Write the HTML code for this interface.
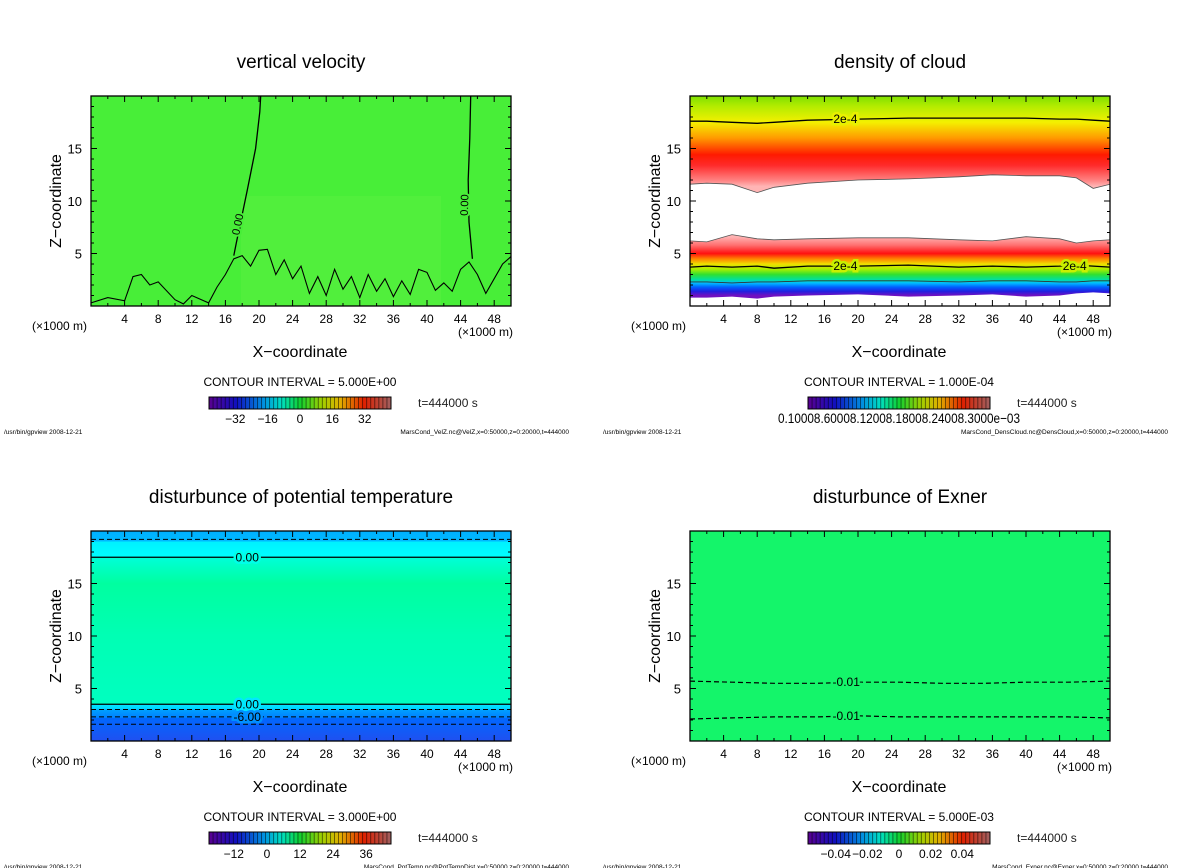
<!DOCTYPE html>
<html><head><meta charset="utf-8">
<style>
body{margin:0;background:#fff;}
svg{display:block;font-family:"Liberation Sans","DejaVu Sans",sans-serif;}
</style></head>
<body>
<svg id="fig" width="1200" height="868" viewBox="0 0 1200 868" xmlns="http://www.w3.org/2000/svg">
<defs>
<linearGradient id="gCloud" x1="0" y1="0" x2="0" y2="1">
<stop offset="0" stop-color="#7ee000"/><stop offset="0.05" stop-color="#b4ec00"/>
<stop offset="0.125" stop-color="#f4f000"/><stop offset="0.2" stop-color="#ff9a00"/>
<stop offset="0.28" stop-color="#ff1a00"/><stop offset="0.33" stop-color="#ff2a2a"/>
<stop offset="0.4" stop-color="#ff8080"/><stop offset="0.43" stop-color="#ffb4b4"/>
<stop offset="0.67" stop-color="#ffb4b4"/><stop offset="0.71" stop-color="#ff7070"/>
<stop offset="0.75" stop-color="#ff1010"/><stop offset="0.775" stop-color="#ff8000"/>
<stop offset="0.8" stop-color="#f0e000"/><stop offset="0.825" stop-color="#a8f000"/>
<stop offset="0.85" stop-color="#30e030"/><stop offset="0.875" stop-color="#00e0a0"/>
<stop offset="0.89" stop-color="#00c0ff"/><stop offset="0.91" stop-color="#0060ff"/>
<stop offset="0.93" stop-color="#2020e0"/><stop offset="0.95" stop-color="#7010c0"/>
<stop offset="1" stop-color="#7010c0"/>
</linearGradient>
<linearGradient id="gTheta" x1="0" y1="0" x2="0" y2="1">
<stop offset="0" stop-color="#00b0ff"/><stop offset="0.05" stop-color="#00b8ff"/>
<stop offset="0.051" stop-color="#00f0ff"/><stop offset="0.125" stop-color="#00ffff"/>
<stop offset="0.126" stop-color="#00ffd8"/><stop offset="0.25" stop-color="#00ffa0"/>
<stop offset="0.5" stop-color="#00ffb4"/><stop offset="0.825" stop-color="#00ffc0"/>
<stop offset="0.826" stop-color="#00e8ff"/><stop offset="0.85" stop-color="#00d0ff"/>
<stop offset="0.851" stop-color="#00a0ff"/><stop offset="0.89" stop-color="#0080ff"/>
<stop offset="0.891" stop-color="#0068ff"/><stop offset="1" stop-color="#2050f0"/>
</linearGradient>
<linearGradient id="gBar" x1="0" y1="0" x2="1" y2="0">
<stop offset="0" stop-color="#5a0090"/><stop offset="0.15" stop-color="#1010c0"/>
<stop offset="0.3" stop-color="#0090e0"/><stop offset="0.4" stop-color="#00e0c0"/>
<stop offset="0.5" stop-color="#10d030"/><stop offset="0.62" stop-color="#a0d000"/>
<stop offset="0.72" stop-color="#e0b000"/><stop offset="0.85" stop-color="#e02000"/>
<stop offset="1" stop-color="#a06060"/>
</linearGradient>
</defs>
</svg>
<script>
// ---- data ----
const xTickValues=[4,8,12,16,20,24,28,32,36,40,44,48];
const zTickValues=[5,10,15];
const panelTitles=["vertical velocity","density of cloud","disturbunce of potential temperature","disturbunce of Exner"];
const contourIntervals=["5.000E+00","1.000E-04","3.000E+00","5.000E-03"];
const footerFiles=["MarsCond_VelZ.nc@VelZ,x=0:50000,z=0:20000,t=444000","MarsCond_DensCloud.nc@DensCloud,x=0:50000,z=0:20000,t=444000","MarsCond_PotTemp.nc@PotTempDist,x=0:50000,z=0:20000,t=444000","MarsCond_Exner.nc@Exner,x=0:50000,z=0:20000,t=444000"];
const barLabels0=["-32","-16","0","16","32"];
const barLabelPos0=[-32,-16,0,16,32];
const barLabels2=["-12","0","12","24","36"];
const barLabelPos2=[-12,0,12,24,36];
const barLabels3=["-0.04","-0.02","0","0.02","0.04"];
const barLabelPos3=[-0.04,-0.02,0,0.02,0.04];
// velocity 0-contours (x km, z km)
const velLineAx=[20.2,20.1,19.6,18.6,17.3,17.0];
const velLineAz=[20,18.5,15,11,6,4.8];
const velLineBx=[45.2,45.1,44.9,45.0,45.4];
const velLineBz=[20,16,12,8,4.5];
const velLowX=[0,2,4,5,6,7,8,10,11,12,14,15,16,17,18,19,20,21,22,23,24,25,26,27,28,29,30,31,32,33,34,35,36,37,38,39,40,41,42,43,44,45,46,47,48,49,50];
const velLowZ=[0.3,0.8,0.5,2.8,3.0,2.0,2.3,0.6,0.2,1.0,0.3,1.8,3.0,4.5,4.8,3.8,5.3,5.4,3.0,4.4,2.6,3.8,1.2,2.8,1.0,3.5,1.6,2.8,0.8,3.0,1.4,2.6,0.9,2.4,1.1,3.5,3.2,1.5,2.2,1.4,3.5,4.2,3.0,1.2,2.6,4.0,4.7];
// cloud boundaries
const cloudX=[0,2,5,8,10,14,20,26,32,36,40,44,46,48,50];
const cloudTopLine=[17.6,17.6,17.5,17.4,17.5,17.7,17.8,17.9,17.9,17.9,17.9,17.8,17.8,17.7,17.6];
const cloudUpperBottom=[11.6,11.7,11.6,10.8,11.3,11.7,12.0,12.1,12.3,12.5,12.4,12.4,12.2,11.2,11.6];
const cloudLowerTop=[6.2,6.1,6.8,6.4,6.3,6.4,6.5,6.5,6.3,6.2,6.6,6.4,6.0,6.2,6.3];
const cloudMidLine=[3.7,3.8,3.7,3.8,3.6,3.8,3.8,3.9,3.7,3.8,3.7,3.8,3.9,3.8,3.7];
const cloudLowLine=[2.3,2.3,2.2,2.3,2.3,2.4,2.4,2.4,2.3,2.4,2.4,2.3,2.3,2.4,2.4];
const cloudBottom=[0.8,0.8,0.9,0.7,0.9,1.0,1.1,0.9,1.0,1.1,0.9,1.0,1.2,1.3,1.2];
// potential temperature contours (z km)
const thetaSolid=[17.5,3.5];
const thetaDashed=[19.2,3.0,2.3,1.6];
// exner dashed contours
const exnerX=[0,5,10,15,20,25,30,35,40,45,50];
const exnerUpper=[5.7,5.6,5.5,5.5,5.6,5.6,5.5,5.5,5.6,5.6,5.7];
const exnerLower=[2.1,2.2,2.3,2.3,2.4,2.3,2.3,2.3,2.3,2.3,2.2];

// ---- drawing ----
const NS="http://www.w3.org/2000/svg";
const svg=document.getElementById('fig');
function el(tag,attrs,parent,text){const e=document.createElementNS(NS,tag);for(const k in attrs)e.setAttribute(k,attrs[k]);if(text!==undefined)e.textContent=text;(parent||svg).appendChild(e);return e;}
const panels=[{ox:91,oy:96},{ox:690,oy:96},{ox:91,oy:531},{ox:690,oy:531}];
const W=420,H=210;
function axX(p,v){return p.ox+v/50*W;}
function axZ(p,v){return p.oy+H-v/20*H;}
function pts(p,xs,zs){return xs.map((x,i)=>axX(p,x).toFixed(1)+','+axZ(p,zs[i]).toFixed(1)).join(' ');}

panels.forEach((p,i)=>{
  const g=el('g',{});
  
  
  const t=el('text',{x:p.ox+W/2,y:p.oy-28,'font-size':19,'text-anchor':'middle'},g,panelTitles[i]);
  
  
  const plot=el('g',{},g);
  
  
  if(i===0){
    el('rect',{x:p.ox,y:p.oy,width:W,height:H,fill:'#48ee38'},plot);
    el('rect',{x:p.ox+150,y:p.oy+100,width:200,height:110,fill:'#58f040',opacity:0.6},plot);
    const a=el('polyline',{points:pts(p,velLineAx,velLineAz),fill:'none',stroke:'#000','stroke-width':1.3},plot);
    
    const b=el('polyline',{points:pts(p,velLineBx,velLineBz),fill:'none',stroke:'#000','stroke-width':1.3},plot);
    
    const c=el('polyline',{points:pts(p,velLowX,velLowZ),fill:'none',stroke:'#000','stroke-width':1.1},plot);
    
    [[17.9,7.7,-78],[44.9,9.6,-88]].forEach(l=>{
      const tx=el('text',{x:axX(p,l[0]),y:axZ(p,l[1]),'font-size':11,'text-anchor':'middle',stroke:'#48ee38','stroke-width':4,'paint-order':'stroke',transform:`rotate(${l[2]} ${axX(p,l[0])} ${axZ(p,l[1])})`},plot,'0.00');
      
    });
  } else if(i===1){
    el('rect',{x:p.ox,y:p.oy,width:W,height:H,fill:'url(#gCloud)'},plot);
    const gap='M'+pts(p,cloudX,cloudUpperBottom)+' L'+pts(p,cloudX.slice().reverse(),cloudLowerTop.slice().reverse())+'Z';
    const gp=el('path',{d:gap,fill:'#fff',stroke:'#555','stroke-width':0.8},plot);
    
    const bot='M'+pts(p,cloudX,cloudBottom)+' L'+axX(p,50)+','+axZ(p,0)+' L'+axX(p,0)+','+axZ(p,0)+'Z';
    el('path',{d:bot,fill:'#fff'},plot);
    [cloudTopLine,cloudMidLine].forEach(arr=>{
      const l=el('polyline',{points:pts(p,cloudX,arr),fill:'none',stroke:'#000','stroke-width':1.3},plot);
      
    });
    el('polyline',{points:pts(p,cloudX,cloudLowLine),fill:'none',stroke:'#333','stroke-width':0.9},plot);
    [[18.5,17.8,'#e8f000'],[18.5,3.8,'#c8f000'],[45.8,3.8,'#c8f000']].forEach(l=>{
      const tx=el('text',{x:axX(p,l[0]),y:axZ(p,l[1])+4,'font-size':12,'text-anchor':'middle',stroke:l[2],'stroke-width':5,'paint-order':'stroke'},plot,'2e-4');
      
    });
  } else if(i===2){
    el('rect',{x:p.ox,y:p.oy,width:W,height:H,fill:'url(#gTheta)'},plot);
    thetaSolid.forEach(z=>{
      const l=el('line',{x1:p.ox,x2:p.ox+W,y1:axZ(p,z),y2:axZ(p,z),stroke:'#000','stroke-width':1.3},plot);
      
    });
    thetaDashed.forEach(z=>{
      const l=el('line',{x1:p.ox,x2:p.ox+W,y1:axZ(p,z),y2:axZ(p,z),stroke:'#000','stroke-width':1,'stroke-dasharray':'5,3'},plot);
      
    });
    thetaSolid.forEach(z=>{
      const tx=el('text',{x:axX(p,18.6),y:axZ(p,z)+4,'font-size':12,'text-anchor':'middle',stroke:z>10?'#00ffe8':'#00e8ff','stroke-width':5,'paint-order':'stroke'},plot,'0.00');
      
    });
    const tx=el('text',{x:axX(p,18.6),y:axZ(p,2.3)+4,'font-size':12,'text-anchor':'middle',stroke:'#0090ff','stroke-width':5,'paint-order':'stroke'},plot,'-6.00');
    
  } else {
    el('rect',{x:p.ox,y:p.oy,width:W,height:H,fill:'#14f56a'},plot);
    [exnerUpper,exnerLower].forEach(arr=>{
      const l=el('polyline',{points:pts(p,exnerX,arr),fill:'none',stroke:'#000','stroke-width':1.2,'stroke-dasharray':'5,3'},plot);
      
      const tx=el('text',{x:axX(p,18.6),y:axZ(p,arr[4])+4,'font-size':12,'text-anchor':'middle',stroke:'#14f56a','stroke-width':5,'paint-order':'stroke'},plot,'-0.01');
      
    });
  }
  // frame & ticks
  el('rect',{x:p.ox,y:p.oy,width:W,height:H,fill:'none',stroke:'#000','stroke-width':1.3},g);
  for(let v=2;v<50;v+=2){
    const L=(v%4===0)?6:3;const x=axX(p,v);
    el('line',{x1:x,x2:x,y1:p.oy+H,y2:p.oy+H-L,stroke:'#000'},g);
    el('line',{x1:x,x2:x,y1:p.oy,y2:p.oy+L,stroke:'#000'},g);
  }
  for(let v=1;v<20;v++){
    const L=(v%5===0)?6:3;const y=axZ(p,v);
    el('line',{x1:p.ox,x2:p.ox+L,y1:y,y2:y,stroke:'#000'},g);
    el('line',{x1:p.ox+W,x2:p.ox+W-L,y1:y,y2:y,stroke:'#000'},g);
  }
  xTickValues.forEach(v=>{
    const t=el('text',{x:axX(p,v),y:p.oy+H+17,'font-size':12,'text-anchor':'middle'},g,String(v));
    
  });
  zTickValues.forEach(v=>{
    const t=el('text',{x:p.ox-9,y:axZ(p,v)+5,'font-size':13,'text-anchor':'end'},g,String(v));
    
  });
  const u1=el('text',{x:p.ox-59,y:p.oy+H+24,'font-size':12},g,'(×1000 m)');
  
  const u2=el('text',{x:p.ox+W+2,y:p.oy+H+30,'font-size':12,'text-anchor':'end'},g,'(×1000 m)');
  
  const xt=el('text',{x:p.ox+209,y:p.oy+H+51,'font-size':16,'text-anchor':'middle'},g,'X−coordinate');
  
  const zt=el('text',{x:0,y:0,'font-size':16,'text-anchor':'middle',transform:`translate(${p.ox-30},${p.oy+105}) rotate(-90)`},g,'Z−coordinate');
  
  const ci=el('text',{x:p.ox+209,y:p.oy+H+80,'font-size':12,'text-anchor':'middle'},g,'CONTOUR INTERVAL = '+contourIntervals[i]);
  
  // colorbar
  const bx=p.ox+118,by=p.oy+H+91,bw=182,bh=12;
  const cb=el('g',{},g);
  
  el('rect',{x:bx,y:by,width:bw,height:bh,fill:'url(#gBar)'},cb);
  for(let k=1;k<45;k++){el('line',{x1:bx+k*bw/45,x2:bx+k*bw/45,y1:by,y2:by+bh,stroke:'#000','stroke-width':0.7,opacity:0.7},cb);}
  el('rect',{x:bx,y:by,width:bw,height:bh,fill:'none',stroke:'#000','stroke-width':1},cb);
  let labs=null,pos=null,rng=null;
  if(i===0){labs=barLabels0;pos=barLabelPos0;rng=[-45,45];}
  if(i===2){labs=barLabels2;pos=barLabelPos2;rng=[-21,45];}
  if(i===3){labs=barLabels3;pos=barLabelPos3;rng=[-0.0575,0.0575];}
  if(labs){labs.forEach((s,k)=>{
    const t=el('text',{x:bx+(pos[k]-rng[0])/(rng[1]-rng[0])*bw,y:by+26,'font-size':12,'text-anchor':'middle'},cb,s.replace('-','−'));
    
  });}else{
    const t=el('text',{x:bx-30,y:by+26,'font-size':14,textLength:242,lengthAdjust:'spacingAndGlyphs'},cb,'0.10008.60008.12008.18008.24008.3000e−03');
    
  }
  const tt=el('text',{x:p.ox+327,y:by+10,'font-size':12,fill:'#222'},g,'t=444000  s');
  
  const f1=el('text',{x:p.ox-87,y:p.oy+H+128,'font-size':6.5},g,'/usr/bin/gpview  2008-12-21');
  
  const f2=el('text',{x:p.ox+478,y:p.oy+H+128,'font-size':6.5,'text-anchor':'end'},g,footerFiles[i]);
  
});
</script>
</body></html>
